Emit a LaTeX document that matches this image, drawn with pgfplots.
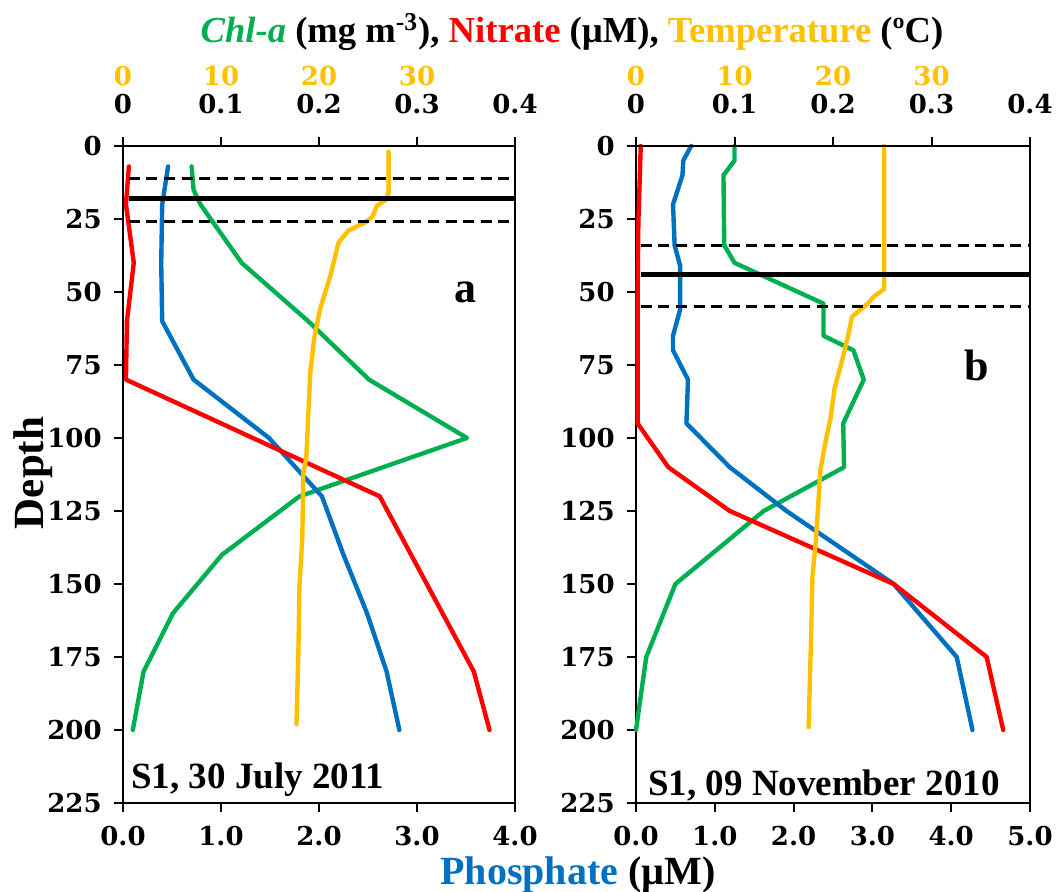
\documentclass[border=0pt]{standalone}
\usepackage{pgfplots}
\pgfplotsset{compat=1.18}
\usepackage{fontspec}
\setmainfont{Liberation Serif}
\newfontfamily\tickfont{DejaVu Serif}
\definecolor{chl}{HTML}{00B050}
\definecolor{nit}{HTML}{FF0000}
\definecolor{pho}{HTML}{0070C0}
\definecolor{tem}{HTML}{FFC000}
\newcommand\tkf{\tickfont\bfseries\fontsize{13}{15}\selectfont}
\begin{document}
\begin{tikzpicture}
\pgfplotsset{
  panel/.style={scale only axis, height=328.5pt, anchor=south west,
    ymin=0, ymax=225, clip=false},
  mainax/.style={panel, y dir=reverse,
    ytick={0,25,...,225},
    xtick pos=bottom, ytick pos=left,
    tick align=outside, major tick length=4.5pt,
    axis line style={line width=1pt},
    tick style={black, line width=1pt},
    /pgf/number format/assume math mode=true,
    tick label style={font=\tkf, inner sep=0pt},
    xticklabel style={anchor=base},
    xticklabel shift=17pt,
    yticklabel style={anchor=east},
    yticklabel shift=6pt},
  topax/.style={panel, ymin=0, ymax=1,
    axis x line*=top, axis y line=none,
    tick align=outside, major tick length=4.5pt,
    axis line style={line width=1pt},
    tick style={black, line width=1pt},
    /pgf/number format/assume math mode=true,
    tick label style={font=\tkf, inner sep=0pt},
    xticklabel style={anchor=base},
    xticklabel shift=11.5pt},
  orax/.style={panel, ymin=0, ymax=1,
    axis x line*=top, axis y line=none,
    major tick length=0pt, tick style={draw=none},
    axis line style={draw=none},
    /pgf/number format/assume math mode=true,
    tick label style={font=\tkf, inner sep=0pt, text=tem},
    xticklabel style={anchor=base},
    xticklabel shift=30pt},
  dat/.style={line width=2.2pt, line join=round, line cap=round, mark=none},
  dsh/.style={black, line width=1.5pt, dash pattern=on 5.5pt off 3.3pt, mark=none},
  sol/.style={black, line width=2.5pt, mark=none},
}
% ---------------- panel a ----------------
\begin{axis}[mainax, at={(61.5pt,44.5pt)}, width=196pt, xmin=0, xmax=4,
  xtick={0,1,2,3,4}, xticklabels={0.0,1.0,2.0,3.0,4.0}]
  % Chl-a (plotted on the bottom-axis scale)
  \addplot[chl, dat] coordinates {(0.70,7) (0.72,15) (0.79,20) (1.21,40) (1.89,60) (2.51,80) (3.51,100) (1.80,120) (1.01,140) (0.51,160) (0.21,180) (0.10,200)};
  % Phosphate
  \addplot[pho, dat] coordinates {(0.46,7) (0.40,20) (0.39,40) (0.40,60) (0.72,80) (1.49,100) (2.03,120) (2.25,140) (2.49,160) (2.69,180) (2.82,200)};
  % Nitrate
  \addplot[nit, dat] coordinates {(0.06,7) (0.03,20) (0.11,40) (0.04,60) (0.03,80) (2.62,120) (3.58,180) (3.74,200)};
  % Temperature
  \addplot[tem, dat] coordinates {(2.71,2) (2.71,16) (2.68,18.5) (2.59,20.5) (2.55,24) (2.48,26) (2.30,29) (2.20,33) (2.12,44) (2.01,56) (1.95,66) (1.91,78) (1.87,107) (1.84,112) (1.83,134) (1.80,151) (1.79,173) (1.77,198)};
  \addplot[dsh] coordinates {(0.06,11) (4,11)};
  \addplot[sol] coordinates {(0.06,18) (4,18)};
  \addplot[dsh] coordinates {(0.06,26) (4,26)};
  \node[font=\bfseries\fontsize{22}{24}\selectfont, anchor=base, inner sep=0pt] at (axis cs:3.5,53.7) {a};
  \node[font=\bfseries\fontsize{18.5}{20}\selectfont, anchor=base west, inner sep=0pt] at (axis cs:0.08,220.2) {S1, 30 July 2011};
\end{axis}
\begin{axis}[topax, at={(61.5pt,44.5pt)}, width=196pt, xmin=0, xmax=4,
  xtick={0,1,2,3,4}, xticklabels={0,0.1,0.2,0.3,0.4}]
\end{axis}
\begin{axis}[orax, at={(61.5pt,44.5pt)}, width=196pt, xmin=0, xmax=4,
  xtick={0,1,2,3}, xticklabels={0,10,20,30}]
\end{axis}
% ---------------- panel b ----------------
\begin{axis}[mainax, at={(318pt,44.5pt)}, width=197pt, xmin=0, xmax=5,
  xtick={0,1,2,3,4,5}, xticklabels={0.0,1.0,2.0,3.0,4.0,5.0}]
  \addplot[chl, dat] coordinates {(1.25,0) (1.25,5) (1.11,10) (1.12,34) (1.25,40) (2.38,54) (2.38,65) (2.76,70) (2.89,80) (2.63,95) (2.64,110) (1.62,125) (0.50,150) (0.13,175) (0.0,200)};
  \addplot[pho, dat] coordinates {(0.70,0) (0.60,5) (0.59,10) (0.47,20) (0.49,34) (0.56,41) (0.56,56) (0.47,65) (0.47,70) (0.66,80) (0.64,95) (1.19,110) (1.91,125) (3.27,150) (4.07,175) (4.27,200)};
  \addplot[nit, dat] coordinates {(0.06,0) (0.05,9) (0.03,26) (0.02,50) (0.02,95) (0.41,110) (1.19,125) (3.27,150) (4.45,175) (4.66,200)};
  \addplot[tem, dat] coordinates {(3.15,0) (3.15,49) (3.02,51.5) (2.94,54) (2.74,58.5) (2.70,64) (2.62,73) (2.52,83) (2.47,93) (2.40,102) (2.34,111) (2.31,124) (2.28,136) (2.24,147) (2.22,170) (2.19,199)};
  \addplot[dsh] coordinates {(0.06,34) (5,34)};
  \addplot[sol] coordinates {(0.06,44) (5,44)};
  \addplot[dsh] coordinates {(0.06,55) (5,55)};
  \node[font=\bfseries\fontsize{22}{24}\selectfont, anchor=base, inner sep=0pt] at (axis cs:4.32,80.4) {b};
  \node[font=\bfseries\fontsize{18.5}{20}\selectfont, anchor=base west, inner sep=0pt] at (axis cs:0.15,222.5) {S1, 09 November 2010};
\end{axis}
\begin{axis}[topax, at={(318pt,44.5pt)}, width=197pt, xmin=0, xmax=5,
  xtick={0,1.25,2.5,3.75,5}, xticklabels={0,0.1,0.2,0.3,0.4}]
\end{axis}
\begin{axis}[orax, at={(318pt,44.5pt)}, width=197pt, xmin=0, xmax=5,
  xtick={0,1.25,2.5,3.75}, xticklabels={0,10,20,30}]
\end{axis}
% ---------------- titles ----------------
\node[anchor=base, inner sep=0pt, font=\bfseries\fontsize{18.3}{21}\selectfont] at (286pt,424.5pt)
  {\textcolor{chl}{\textit{Chl-a}} (mg m\textsuperscript{-3}), \textcolor{nit}{Nitrate} (µM), \textcolor{tem}{Temperature} (ºC)};
\node[anchor=base, inner sep=0pt, font=\bfseries\fontsize{20}{23}\selectfont] at (289pt,3.5pt)
  {\textcolor{pho}{Phosphate} (µM)};
\node[anchor=base, inner sep=0pt, rotate=90, font=\bfseries\fontsize{21.5}{24}\selectfont] at (21.5pt,209.5pt) {Depth};
\pgfresetboundingbox
\path[use as bounding box] (0,0) rectangle (528.5pt,446pt);
\end{tikzpicture}
\end{document}
